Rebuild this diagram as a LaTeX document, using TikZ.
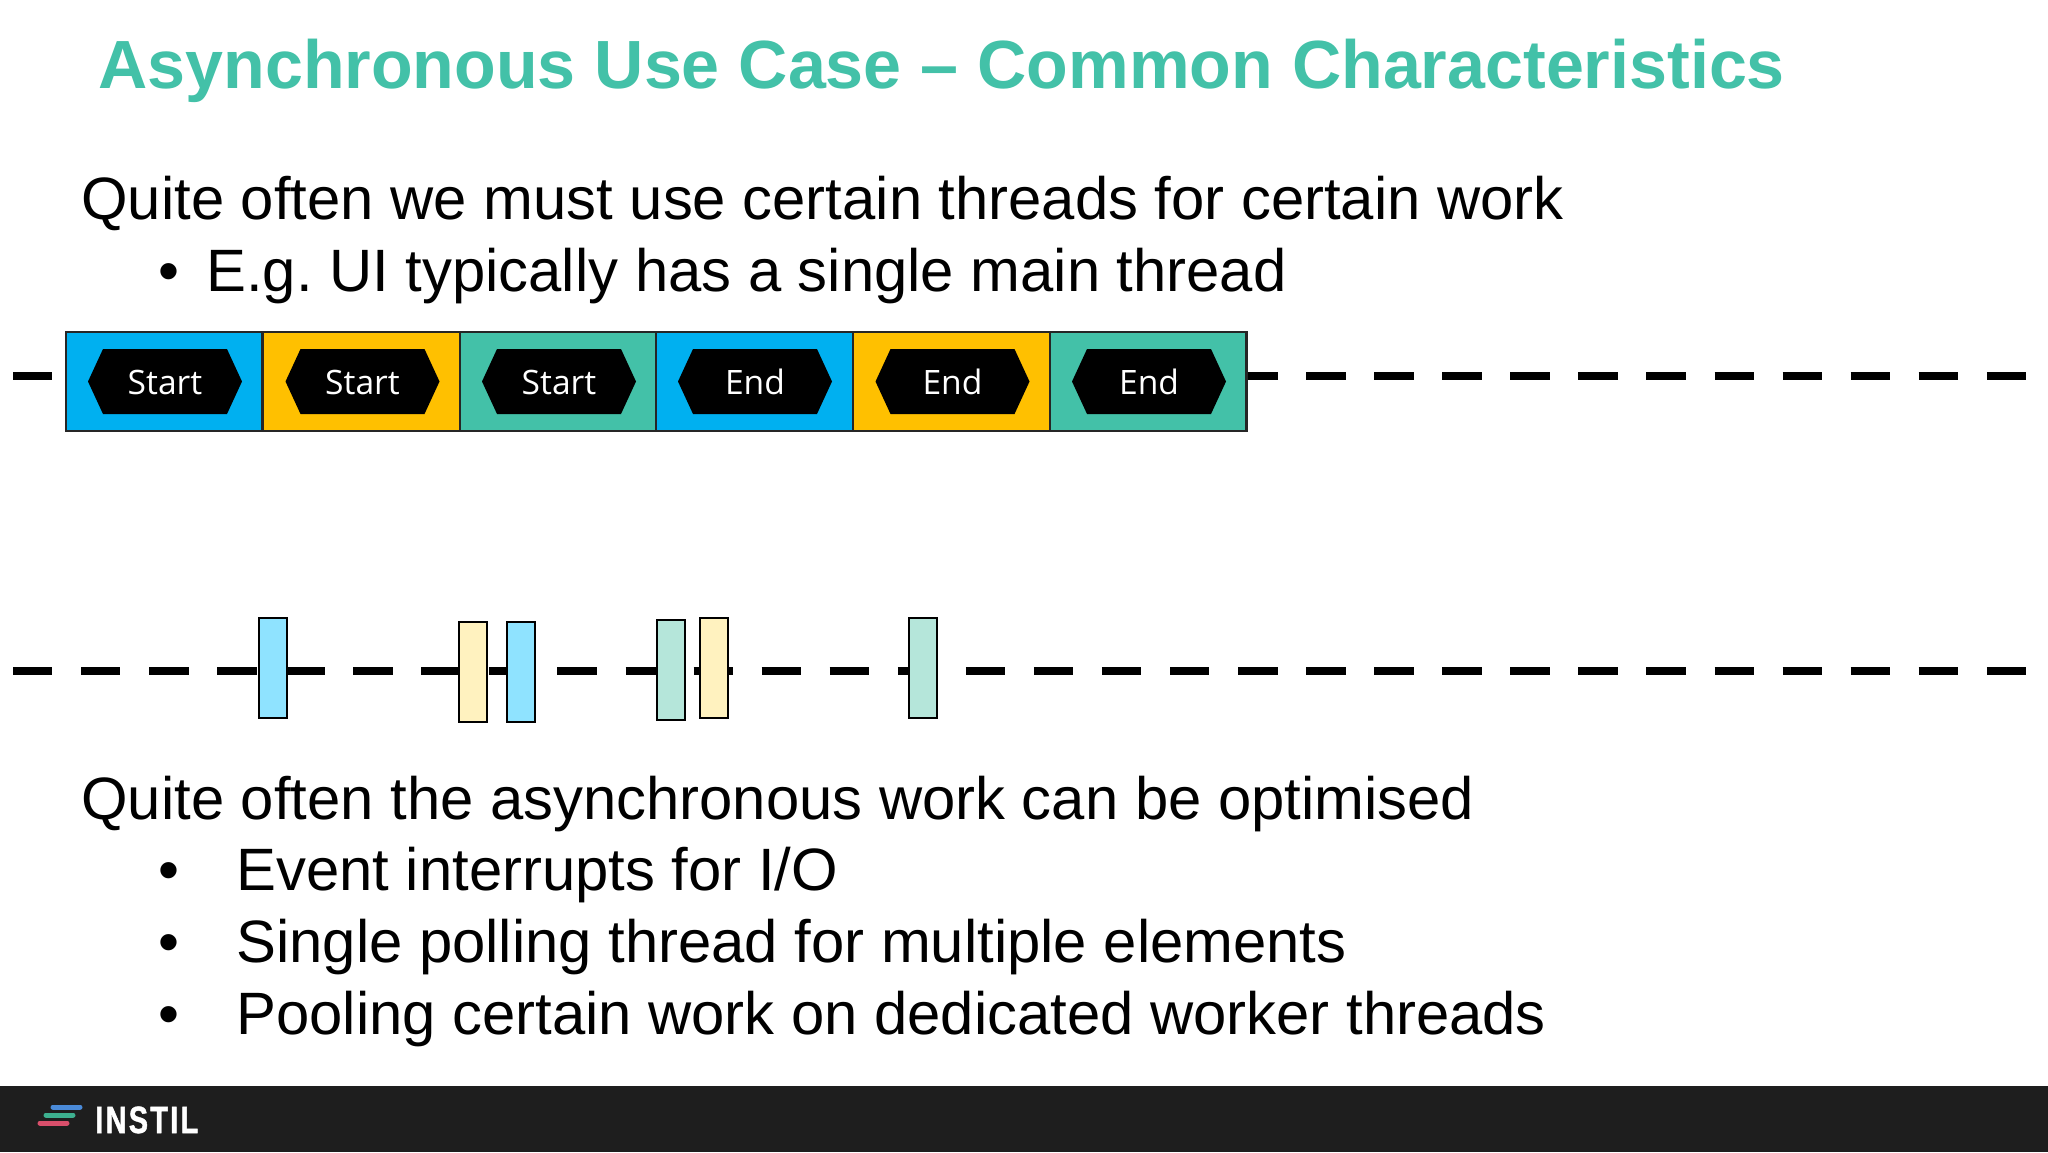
\documentclass[tikz,border=0pt]{standalone}
\usepackage{fontspec}
\setmainfont{Liberation Sans}
\newfontfamily\hexfont{Open Sans}
\newfontfamily\logofont[FakeStretch=0.76,LetterSpace=6,FakeBold=1.2]{Liberation Sans}
\definecolor{cblue}{HTML}{00B0F0}
\definecolor{cyellow}{HTML}{FFC000}
\definecolor{cgreen}{HTML}{43C1A8}
\definecolor{lblue}{HTML}{8FE3FF}
\definecolor{lyellow}{HTML}{FFF2BF}
\definecolor{lgreen}{HTML}{B5E6DA}
\definecolor{footer}{HTML}{1E1E1E}
\definecolor{titlegreen}{HTML}{43C1A8}
\definecolor{logoblue}{HTML}{4A8AD8}
\definecolor{logogreen}{HTML}{3DB08F}
\definecolor{logored}{HTML}{D94F6B}
\tikzset{
  x=0.5pt,y=-0.5pt,
  cell/.style={draw=black!85,line width=1.1pt,minimum width=98.4pt,minimum height=49.5pt,inner sep=0pt,outer sep=0pt},
  hexlabel/.style={text=white,font=\hexfont\fontsize{16.8}{20}\selectfont,inner sep=0pt},
  slice/.style={draw=black,line width=1pt,minimum width=14pt,minimum height=50pt,inner sep=0pt,outer sep=0pt},
  timeline/.style={line width=4pt,dash pattern=on 19.7pt off 14.33pt},
  body/.style={anchor=base west,inner sep=0pt,font=\frenchspacing\fontsize{29.9}{36}\selectfont},
  logobar/.style={line width=2.5pt,line cap=round}
}
% #1 name, #2 fill, #3 cell centre, #4 label, #5 hexagon centre
\newcommand{\hexcell}[5]{%
  \node[cell,fill=#2] (#1) at (#3,381.5) {};
  \fill[black] (#5-77,381.5) -- (#5-62,349) -- (#5+62,349) -- (#5+77,381.5) -- (#5+62,414) -- (#5-62,414) -- cycle;
  \node[hexlabel,anchor=base] (#1t) at (#5,394) {#4};
}
\begin{document}
\begin{tikzpicture}
\useasboundingbox (0,0) rectangle (2048,1152);
\fill[white] (0,0) rectangle (2048,1152);
\node[anchor=base west,inner sep=0pt,text=titlegreen,font=\bfseries\fontsize{34.1}{42}\selectfont] (title) at (98,88.5) {Asynchronous Use Case – Common Characteristics};
\node[body] (q1) at (81,219.5) {Quite often we must use certain threads for certain work};
\node[body] (q1b) at (158,291) {•};
\node[body] (q1c) at (206,291) {E.g. UI typically has a single main thread};
% timelines
\coordinate (t1a) at (13,376);
\coordinate (t1b) at (2027,376);
\coordinate (t2a) at (13,671);
\coordinate (t2b) at (2027,671);
\draw[timeline] (t1a) -- (t1b);
\draw[timeline] (t2a) -- (t2b);
% top row
\hexcell{c1}{cblue}{164}{Start}{165}
\hexcell{c2}{cyellow}{361.5}{Start}{362.5}
\hexcell{c3}{cgreen}{558.5}{Start}{559}
\hexcell{c4}{cblue}{754.5}{End}{755}
\hexcell{c5}{cyellow}{951.5}{End}{952.5}
\hexcell{c6}{cgreen}{1148}{End}{1149}
% slices
\node[slice,fill=lblue] (s1) at (273,668) {};
\node[slice,fill=lyellow] (s2) at (473,672) {};
\node[slice,fill=lblue] (s3) at (520.5,671.5) {};
\node[slice,fill=lgreen] (s4) at (670.5,670) {};
\node[slice,fill=lyellow] (s5) at (713.5,668) {};
\node[slice,fill=lgreen] (s6) at (922.5,668) {};
% lower text
\node[body] (q2) at (81,819) {Quite often the asynchronous work can be optimised};
\node[body] (b1) at (158,890) {•};
\node[body] (t1) at (236,890) {Event interrupts for I/O};
\node[body] (b2) at (158,962) {•};
\node[body] (t2) at (236,962) {Single polling thread for multiple elements};
\node[body] (b3) at (158,1034) {•};
\node[body] (t3) at (236,1034) {Pooling certain work on dedicated worker threads};
% footer
\fill[footer] (0,1085.5) rectangle (2048,1152);
\draw[logobar,color=logoblue] (53,1107) -- (80,1107);
\draw[logobar,color=logogreen] (46,1115) -- (73,1115);
\draw[logobar,color=logored] (40,1123) -- (67,1123);
\node[anchor=base west,inner sep=0pt,text=white,font=\logofont\bfseries\fontsize{19}{22}\selectfont] (logo) at (95,1133) {INSTIL};
\end{tikzpicture}
\end{document}
